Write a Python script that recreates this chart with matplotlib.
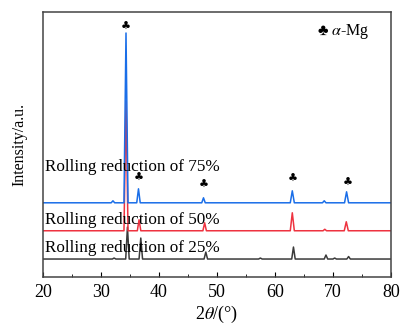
import matplotlib
matplotlib.use("Agg")
import matplotlib.pyplot as plt
from matplotlib.ticker import MultipleLocator

plt.rcParams['font.family'] = ['Liberation Serif', 'DejaVu Sans']
plt.rcParams['mathtext.fontset'] = 'stix'

# XRD patterns (2theta in degrees, intensity in a.u.)
tt_25 = [20.0, 32.0, 32.3, 32.6, 34.3, 34.6, 34.9, 36.6, 36.9, 37.2,
         47.8, 48.1, 48.4, 57.2, 57.5, 57.8, 62.9, 63.2, 63.5,
         68.5, 68.8, 69.1, 70.0, 70.3, 70.6, 72.4, 72.7, 73.0, 80.0]
int_25 = [0, 0, 1, 0, 0, 32, 0, 0, 21, 0,
          0, 7, 0, 0, 1, 0, 0, 12, 0,
          0, 4, 0, 0, 1, 0, 0, 2.5, 0, 0]

tt_50 = [20.0, 34.0, 34.35, 34.7, 36.3, 36.6, 36.9, 47.6, 47.9, 48.2,
         62.65, 63.0, 63.35, 68.3, 68.6, 68.9, 71.95, 72.3, 72.65, 80.0]
int_50 = [0, 0, 130, 0, 0, 11, 0, 0, 8, 0,
          0, 18, 0, 0, 1.5, 0, 0, 9, 0, 0]

tt_75 = [20.0, 31.8, 32.1, 32.4, 34.0, 34.35, 34.7, 36.2, 36.5, 36.8,
         47.4, 47.7, 48.0, 62.65, 63.0, 63.35, 68.2, 68.5, 68.8,
         72.0, 72.35, 72.7, 80.0]
int_75 = [0, 0, 2, 0, 0, 170, 0, 0, 14, 0,
          0, 5, 0, 0, 12, 0, 0, 2, 0,
          0, 11, 0, 0]

labels = ['Rolling reduction of 25%', 'Rolling reduction of 50%',
          'Rolling reduction of 75%']

# alpha-Mg peak markers (2theta, height above the 75% pattern)
club_tt = [34.35, 36.6, 47.8, 63.0, 72.5]
club_y = [249.7, 98.7, 91.7, 97.7, 94.0]

offsets = [17.7, 46.0, 74.0]
label_y = [25.0, 52.7, 106.0]
colors = ['#3a3a3a', '#ee3340', '#1a6ee8']

fig = plt.figure(figsize=(4.01, 3.25), dpi=100)
ax = fig.add_axes([0.1065, 0.1486, 0.8685, 0.8144])

series = [(tt_25, int_25), (tt_50, int_50), (tt_75, int_75)]
for (tt, inten), off, col in zip(series, offsets, colors):
    ax.plot(tt, [v + off for v in inten], color=col, linewidth=1.1)

for lab, ly in zip(labels, label_y):
    ax.text(20.4, ly, lab, fontsize=12.3, va='baseline', ha='left')

for cx, cy in zip(club_tt, club_y):
    ax.text(cx, cy, '\u2663', fontsize=8, ha='center', va='center',
            family='DejaVu Sans')

ax.text(76.3, 241.7, '\u2663 $\\alpha$-Mg', fontsize=11.5, ha='right',
        va='baseline')

ax.set_xlim(20, 80)
ax.set_ylim(0, 265)
ax.xaxis.set_major_locator(MultipleLocator(10))
ax.xaxis.set_minor_locator(MultipleLocator(5))
ax.tick_params(axis='x', which='both', direction='in', top=False,
               labelsize=13, pad=5)
ax.tick_params(axis='x', which='major', length=3.5)
ax.tick_params(axis='x', which='minor', length=2)
ax.set_yticks([])

for sp in ax.spines.values():
    sp.set_color('#444444')
    sp.set_linewidth(1.1)

ax.set_xlabel('2$\\theta$/(°)', fontsize=13, labelpad=2)
ax.set_ylabel('Intensity/a.u.', fontsize=11.5, labelpad=11)

fig.savefig('out.png', dpi=100)
